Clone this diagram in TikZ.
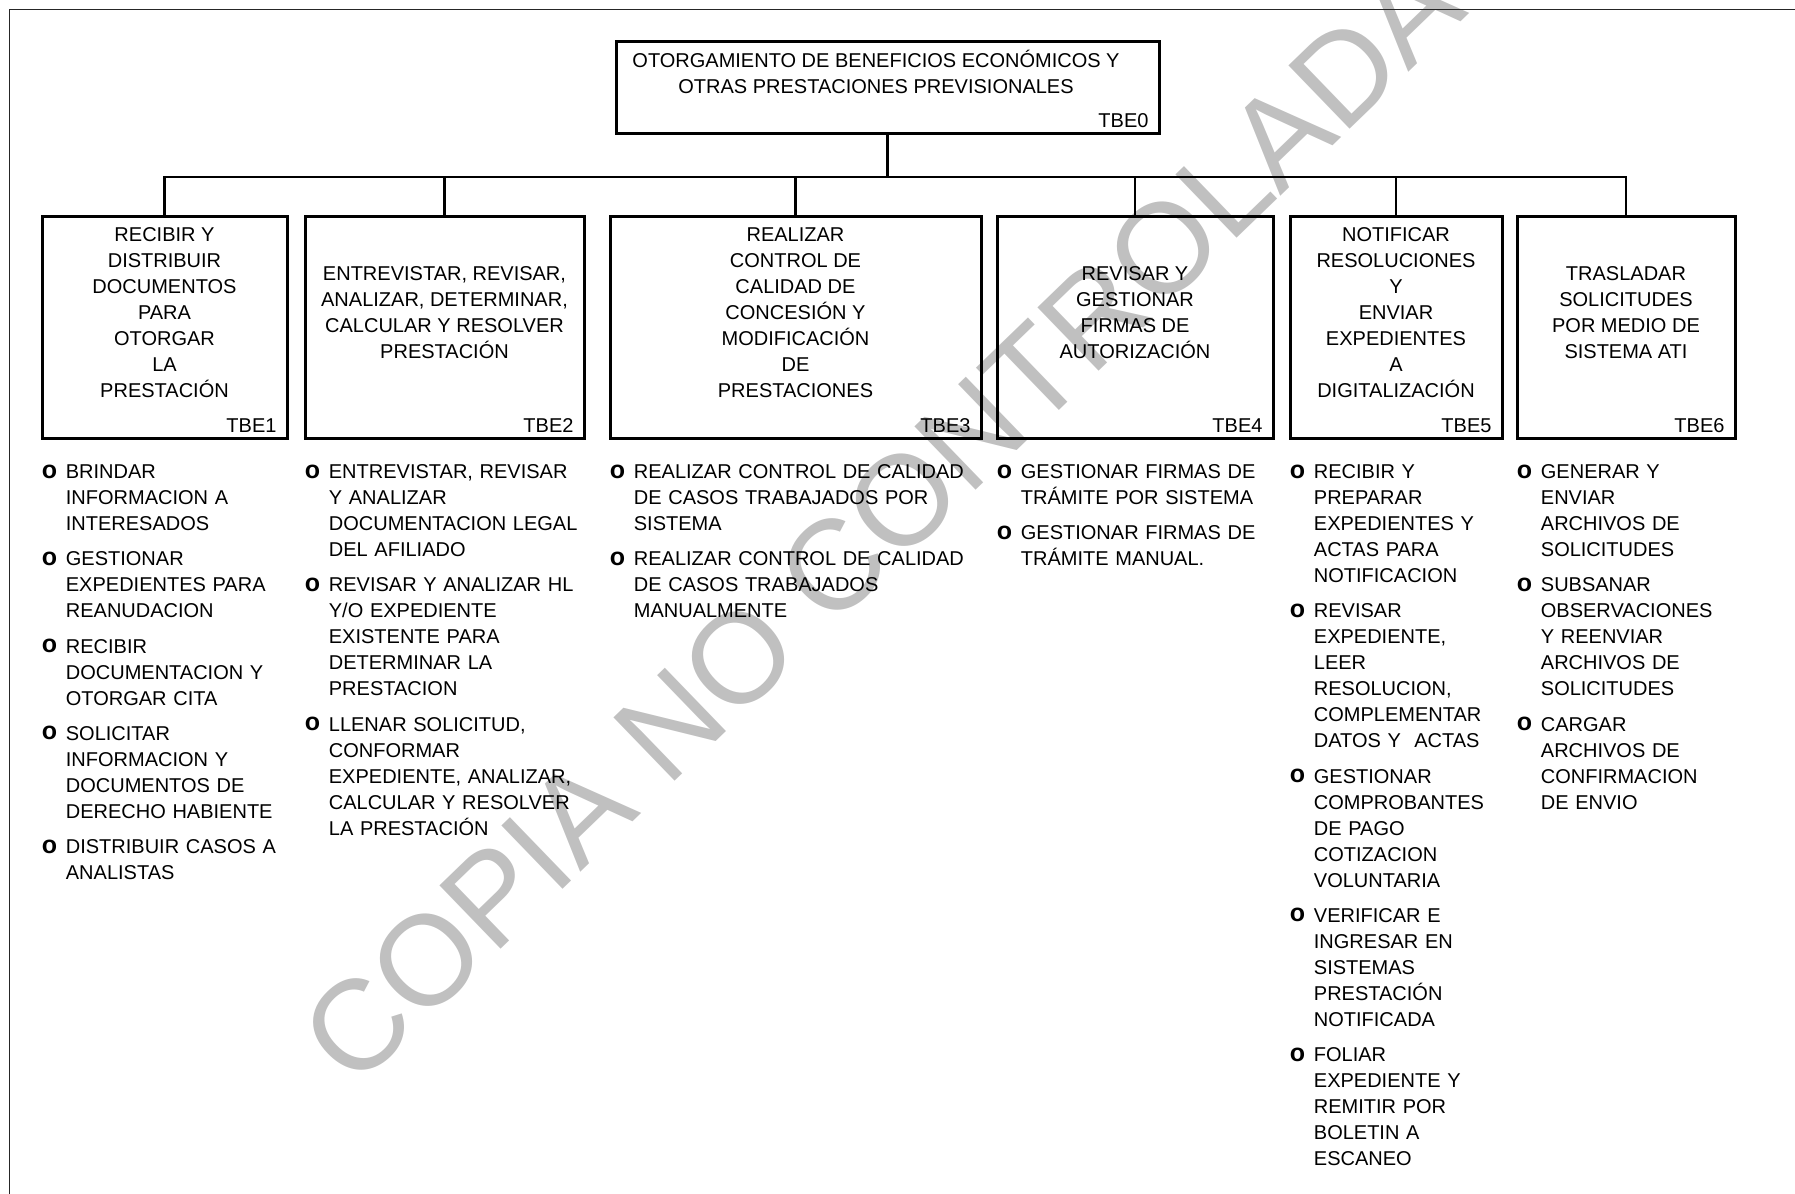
\documentclass[tikz,border=0pt]{standalone}
\usepackage{fontspec}
\setmainfont{Liberation Sans}
\usepackage{xcolor}
\definecolor{marcagris}{RGB}{192,192,192}
\newcommand{\vineta}[1]{\par\hangindent=12pt\hangafter=1\noindent\strut\makebox[12pt][l]{\raisebox{0.2pt}{\fontsize{12.5}{13}\selectfont\bfseries o}}#1\par}

\begin{document}
\begin{tikzpicture}[x=0.5pt,y=0.5pt]
\tikzstyle{every node}+=[inner sep=0pt, font=\fontsize{10}{13}\selectfont]
\tikzstyle{caja}=[draw=black, line width=1.5pt, minimum height=111pt]
\tikzstyle{titulo}=[align=center]
\tikzstyle{codigo}=[anchor=south east, inner xsep=5.8pt, inner ysep=3.3pt]
\tikzstyle{lista}=[anchor=north west, align=left, execute at begin node={\setlength{\parskip}{4.6pt}}]
\tikzstyle{enlace}=[black, line width=1.3pt]
\useasboundingbox (0,0) rectangle (1795,-1194);
\node [rotate=44, text=marcagris, font=\fontsize{64}{64}\selectfont] (marca) at (882,-520) {COPIA NO CONTROLADA};
\draw [black!85, line width=0.9pt] (9.5,-1194) -- (9.5,-9.5) -- (1795,-9.5);

\node [caja, minimum width=271.5pt, minimum height=46pt] (b0) at (887.5,-87) {};
\node [titulo] (t0) at ([xshift=-5.75pt,yshift=7.75pt]b0.center) {OTORGAMIENTO DE BENEFICIOS ECONÓMICOS Y\\OTRAS PRESTACIONES PREVISIONALES};
\node [codigo] (c0) at (b0.south east) {TBE0};

\node [caja, minimum width=122.5pt] (b1) at (164.5,-327) {};
\node [caja, minimum width=139.5pt] (b2) at (444.5,-327) {};
\node [caja, minimum width=185.5pt] (b3) at (795.5,-327) {};
\node [caja, minimum width=138pt] (b4) at (1135,-327) {};
\node [caja, minimum width=106pt] (b5) at (1396,-327) {};
\node [caja, minimum width=109pt] (b6) at (1626,-327) {};

\node [titulo] (t1) at ([yshift=7.25pt]b1.center) {RECIBIR Y\\DISTRIBUIR\\DOCUMENTOS\\PARA\\OTORGAR\\LA\\PRESTACIÓN};
\node [titulo] (t2) at ([yshift=7.25pt]b2.center) {ENTREVISTAR, REVISAR,\\ANALIZAR, DETERMINAR,\\CALCULAR Y RESOLVER\\PRESTACIÓN};
\node [titulo] (t3) at ([yshift=7.25pt]b3.center) {REALIZAR\\CONTROL DE\\CALIDAD DE\\CONCESIÓN Y\\MODIFICACIÓN\\DE\\PRESTACIONES};
\node [titulo] (t4) at ([yshift=7.25pt]b4.center) {REVISAR Y\\GESTIONAR\\FIRMAS DE\\AUTORIZACIÓN};
\node [titulo] (t5) at ([yshift=7.25pt]b5.center) {NOTIFICAR\\RESOLUCIONES\\Y\\ENVIAR\\EXPEDIENTES\\A\\DIGITALIZACIÓN};
\node [titulo] (t6) at ([yshift=7.25pt]b6.center) {TRASLADAR\\SOLICITUDES\\POR MEDIO DE\\SISTEMA ATI};

\foreach \i in {1,...,6}
  \node [codigo] (c\i) at (b\i.south east) {TBE\i};

\coordinate (bus) at (887.5,-177);
\draw [enlace] (b0.south) -- (b0.south |- bus);
\draw [enlace] (b1.north) -- (b1.north |- bus) -- (b6.north |- bus) -- (b6.north);
\foreach \i in {2,...,5}
  \draw [enlace] (b\i.north) -- (b\i.north |- bus);

\node [lista, text width=135pt] (l1) at ([xshift=0.5pt,yshift=-1.8pt]b1.south west) {
\vineta{BRINDAR\newline INFORMACION A\newline INTERESADOS}
\vineta{GESTIONAR\newline EXPEDIENTES PARA\newline REANUDACION}
\vineta{RECIBIR\newline DOCUMENTACION Y\newline OTORGAR CITA}
\vineta{SOLICITAR\newline INFORMACION Y\newline DOCUMENTOS DE\newline DERECHO HABIENTE}
\vineta{DISTRIBUIR CASOS A\newline ANALISTAS}};
\node [lista, text width=150pt] (l2) at ([xshift=0.5pt,yshift=-1.8pt]b2.south west) {
\vineta{ENTREVISTAR, REVISAR\newline Y ANALIZAR\newline DOCUMENTACION LEGAL\newline DEL AFILIADO}
\vineta{REVISAR Y ANALIZAR HL\newline Y/O EXPEDIENTE\newline EXISTENTE PARA\newline DETERMINAR LA\newline PRESTACION}
\vineta{LLENAR SOLICITUD,\newline CONFORMAR\newline EXPEDIENTE, ANALIZAR,\newline CALCULAR Y RESOLVER\newline LA PRESTACIÓN}};
\node [lista, text width=190pt] (l3) at ([xshift=0.5pt,yshift=-1.8pt]b3.south west) {
\vineta{REALIZAR CONTROL DE CALIDAD\newline DE CASOS TRABAJADOS POR\newline SISTEMA}
\vineta{REALIZAR CONTROL DE CALIDAD\newline DE CASOS TRABAJADOS\newline MANUALMENTE}};
\node [lista, text width=145pt] (l4) at ([xshift=0.5pt,yshift=-1.8pt]b4.south west) {
\vineta{GESTIONAR FIRMAS DE\newline TRÁMITE POR SISTEMA}
\vineta{GESTIONAR FIRMAS DE\newline TRÁMITE MANUAL.}};
\node [lista, text width=112pt] (l5) at ([xshift=0.5pt,yshift=-1.8pt]b5.south west) {
\vineta{RECIBIR Y\newline PREPARAR\newline EXPEDIENTES Y\newline ACTAS PARA\newline NOTIFICACION}
\vineta{REVISAR\newline EXPEDIENTE,\newline LEER\newline RESOLUCION,\newline COMPLEMENTAR\newline DATOS Y~ ACTAS}
\vineta{GESTIONAR\newline COMPROBANTES\newline DE PAGO\newline COTIZACION\newline VOLUNTARIA}
\vineta{VERIFICAR E\newline INGRESAR EN\newline SISTEMAS\newline PRESTACIÓN\newline NOTIFICADA}
\vineta{FOLIAR\newline EXPEDIENTE Y\newline REMITIR POR\newline BOLETIN A\newline ESCANEO}};
\node [lista, text width=115pt] (l6) at ([xshift=0.5pt,yshift=-1.8pt]b6.south west) {
\vineta{GENERAR Y\newline ENVIAR\newline ARCHIVOS DE\newline SOLICITUDES}
\vineta{SUBSANAR\newline OBSERVACIONES\newline Y REENVIAR\newline ARCHIVOS DE\newline SOLICITUDES}
\vineta{CARGAR\newline ARCHIVOS DE\newline CONFIRMACION\newline DE ENVIO}};
\end{tikzpicture}
\end{document}
